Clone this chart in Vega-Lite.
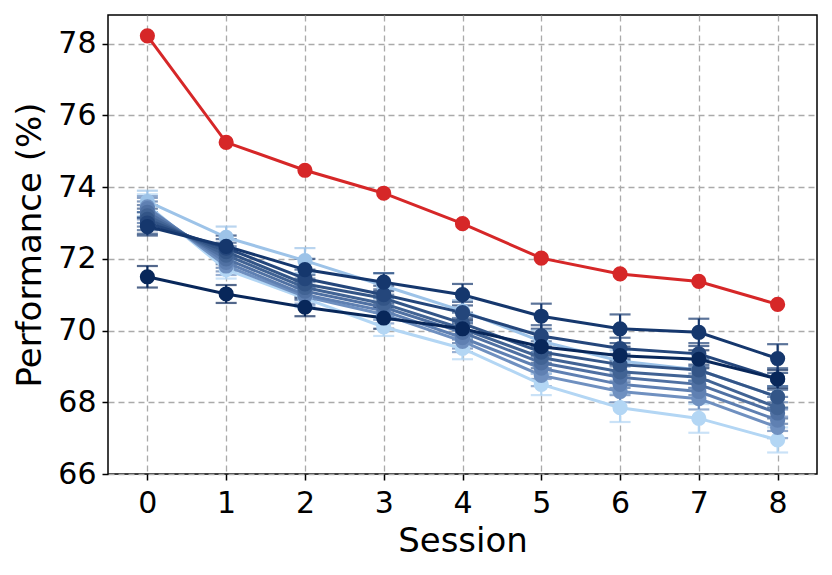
{
  "$schema": "https://vega.github.io/schema/vega-lite/v6.json",
  "autosize": "none",
  "width": 709,
  "height": 459,
  "padding": {"left": 108, "top": 15, "right": 15, "bottom": 101},
  "background": "white",
  "config": {
    "font": "DejaVu Sans",
    "view": {"stroke": "black", "strokeWidth": 1.5},
    "axis": {
      "grid": true,
      "gridColor": "#aaaaaa",
      "gridDash": [6, 4],
      "gridWidth": 1.3,
      "domain": false,
      "tickColor": "black",
      "tickSize": 6,
      "tickWidth": 1.5,
      "labelFont": "DejaVu Sans",
      "labelFontSize": 30,
      "labelColor": "black",
      "titleFont": "DejaVu Sans",
      "titleFontSize": 34,
      "titleFontWeight": "normal",
      "titleColor": "black"
    }
  },
  "data": {
    "values": [
      {"series": "b01", "session": 0, "value": 73.5, "err": 0.3},
      {"series": "b01", "session": 1, "value": 71.7, "err": 0.25},
      {"series": "b01", "session": 2, "value": 70.9, "err": 0.25},
      {"series": "b01", "session": 3, "value": 70.1, "err": 0.25},
      {"series": "b01", "session": 4, "value": 69.5, "err": 0.3},
      {"series": "b01", "session": 5, "value": 68.5, "err": 0.3},
      {"series": "b01", "session": 6, "value": 67.85, "err": 0.4},
      {"series": "b01", "session": 7, "value": 67.55, "err": 0.4},
      {"series": "b01", "session": 8, "value": 66.95, "err": 0.35},
      {"series": "b02", "session": 0, "value": 73.6, "err": 0.3},
      {"series": "b02", "session": 1, "value": 72.6, "err": 0.3},
      {"series": "b02", "session": 2, "value": 71.95, "err": 0.35},
      {"series": "b02", "session": 3, "value": 71.25, "err": 0.35},
      {"series": "b02", "session": 4, "value": 70.55, "err": 0.3},
      {"series": "b02", "session": 5, "value": 69.7, "err": 0.3},
      {"series": "b02", "session": 6, "value": 69.15, "err": 0.3},
      {"series": "b02", "session": 7, "value": 68.9, "err": 0.3},
      {"series": "b02", "session": 8, "value": 68.15, "err": 0.3},
      {"series": "b03", "session": 0, "value": 73.45, "err": 0.3},
      {"series": "b03", "session": 1, "value": 71.8, "err": 0.25},
      {"series": "b03", "session": 2, "value": 70.95, "err": 0.25},
      {"series": "b03", "session": 3, "value": 70.45, "err": 0.25},
      {"series": "b03", "session": 4, "value": 69.7, "err": 0.3},
      {"series": "b03", "session": 5, "value": 68.75, "err": 0.3},
      {"series": "b03", "session": 6, "value": 68.3, "err": 0.3},
      {"series": "b03", "session": 7, "value": 68.1, "err": 0.3},
      {"series": "b03", "session": 8, "value": 67.3, "err": 0.3},
      {"series": "b04", "session": 0, "value": 73.4, "err": 0.3},
      {"series": "b04", "session": 1, "value": 71.9, "err": 0.25},
      {"series": "b04", "session": 2, "value": 71.0, "err": 0.25},
      {"series": "b04", "session": 3, "value": 70.55, "err": 0.25},
      {"series": "b04", "session": 4, "value": 69.8, "err": 0.3},
      {"series": "b04", "session": 5, "value": 68.95, "err": 0.3},
      {"series": "b04", "session": 6, "value": 68.5, "err": 0.3},
      {"series": "b04", "session": 7, "value": 68.3, "err": 0.3},
      {"series": "b04", "session": 8, "value": 67.5, "err": 0.3},
      {"series": "b05", "session": 0, "value": 73.3, "err": 0.3},
      {"series": "b05", "session": 1, "value": 72.0, "err": 0.25},
      {"series": "b05", "session": 2, "value": 71.1, "err": 0.25},
      {"series": "b05", "session": 3, "value": 70.65, "err": 0.25},
      {"series": "b05", "session": 4, "value": 69.95, "err": 0.3},
      {"series": "b05", "session": 5, "value": 69.1, "err": 0.3},
      {"series": "b05", "session": 6, "value": 68.7, "err": 0.3},
      {"series": "b05", "session": 7, "value": 68.5, "err": 0.3},
      {"series": "b05", "session": 8, "value": 67.7, "err": 0.3},
      {"series": "b06", "session": 0, "value": 73.2, "err": 0.3},
      {"series": "b06", "session": 1, "value": 72.1, "err": 0.25},
      {"series": "b06", "session": 2, "value": 71.2, "err": 0.25},
      {"series": "b06", "session": 3, "value": 70.75, "err": 0.25},
      {"series": "b06", "session": 4, "value": 70.05, "err": 0.3},
      {"series": "b06", "session": 5, "value": 69.25, "err": 0.3},
      {"series": "b06", "session": 6, "value": 68.85, "err": 0.3},
      {"series": "b06", "session": 7, "value": 68.7, "err": 0.3},
      {"series": "b06", "session": 8, "value": 67.85, "err": 0.3},
      {"series": "b07", "session": 0, "value": 73.1, "err": 0.3},
      {"series": "b07", "session": 1, "value": 72.2, "err": 0.25},
      {"series": "b07", "session": 2, "value": 71.3, "err": 0.25},
      {"series": "b07", "session": 3, "value": 70.9, "err": 0.25},
      {"series": "b07", "session": 4, "value": 70.2, "err": 0.3},
      {"series": "b07", "session": 5, "value": 69.4, "err": 0.3},
      {"series": "b07", "session": 6, "value": 69.05, "err": 0.3},
      {"series": "b07", "session": 7, "value": 68.9, "err": 0.3},
      {"series": "b07", "session": 8, "value": 68.15, "err": 0.3},
      {"series": "b08", "session": 0, "value": 73.0, "err": 0.3},
      {"series": "b08", "session": 1, "value": 72.3, "err": 0.25},
      {"series": "b08", "session": 2, "value": 71.45, "err": 0.25},
      {"series": "b08", "session": 3, "value": 71.0, "err": 0.25},
      {"series": "b08", "session": 4, "value": 70.5, "err": 0.3},
      {"series": "b08", "session": 5, "value": 69.85, "err": 0.3},
      {"series": "b08", "session": 6, "value": 69.5, "err": 0.3},
      {"series": "b08", "session": 7, "value": 69.35, "err": 0.3},
      {"series": "b08", "session": 8, "value": 68.65, "err": 0.3},
      {"series": "b09", "session": 0, "value": 72.9, "err": 0.25},
      {"series": "b09", "session": 1, "value": 72.35, "err": 0.3},
      {"series": "b09", "session": 2, "value": 71.7, "err": 0.3},
      {"series": "b09", "session": 3, "value": 71.35, "err": 0.25},
      {"series": "b09", "session": 4, "value": 71.0, "err": 0.3},
      {"series": "b09", "session": 5, "value": 70.4, "err": 0.35},
      {"series": "b09", "session": 6, "value": 70.05, "err": 0.4},
      {"series": "b09", "session": 7, "value": 69.95, "err": 0.38},
      {"series": "b09", "session": 8, "value": 69.22, "err": 0.4},
      {"series": "b10", "session": 0, "value": 71.5, "err": 0.3},
      {"series": "b10", "session": 1, "value": 71.02, "err": 0.25},
      {"series": "b10", "session": 2, "value": 70.65, "err": 0.25},
      {"series": "b10", "session": 3, "value": 70.35, "err": 0.3},
      {"series": "b10", "session": 4, "value": 70.05, "err": 0.25},
      {"series": "b10", "session": 5, "value": 69.55, "err": 0.25},
      {"series": "b10", "session": 6, "value": 69.3, "err": 0.25},
      {"series": "b10", "session": 7, "value": 69.2, "err": 0.25},
      {"series": "b10", "session": 8, "value": 68.65, "err": 0.25},
      {"series": "ours", "session": 0, "value": 78.22, "err": 0},
      {"series": "ours", "session": 1, "value": 75.25, "err": 0},
      {"series": "ours", "session": 2, "value": 74.47, "err": 0},
      {"series": "ours", "session": 3, "value": 73.83, "err": 0},
      {"series": "ours", "session": 4, "value": 72.98, "err": 0},
      {"series": "ours", "session": 5, "value": 72.02, "err": 0},
      {"series": "ours", "session": 6, "value": 71.58, "err": 0},
      {"series": "ours", "session": 7, "value": 71.37, "err": 0},
      {"series": "ours", "session": 8, "value": 70.73, "err": 0}
    ]
  },
  "encoding": {
    "x": {
      "field": "session", "type": "quantitative",
      "scale": {"domain": [-0.5, 8.5], "nice": false, "zero": false},
      "axis": {"values": [0,1,2,3,4,5,6,7,8], "title": "Session", "labelPadding": 8, "titlePadding": 6, "format": "d"}
    },
    "y": {
      "field": "value", "type": "quantitative",
      "scale": {"domain": [66, 78.8], "nice": false, "zero": false},
      "axis": {"values": [66,68,70,72,74,76,78], "title": "Performance (%)", "labelPadding": 6, "titlePadding": 10}
    },
    "color": {
      "field": "series", "type": "nominal", "legend": null,
      "scale": {
        "domain": ["b01","b02","b03","b04","b05","b06","b07","b08","b09","b10","ours"],
        "range": ["#b3d6f4","#9dc3e8","#6f90c0","#5f80b2","#4f70a2","#416394","#335587","#24467b","#15376d","#08275a","#d62728"]
      }
    }
  },
  "layer": [
    {
      "transform": [{"filter": "datum.series != 'ours'"}],
      "mark": {"type": "errorbar", "ticks": {"size": 21, "thickness": 2.2}, "thickness": 2.2},
      "encoding": {
        "yError": {"field": "err"}
      }
    },
    {
      "mark": {"type": "line", "strokeWidth": 3}
    },
    {
      "mark": {"type": "point", "filled": true, "size": 230, "opacity": 1}
    }
  ]
}
